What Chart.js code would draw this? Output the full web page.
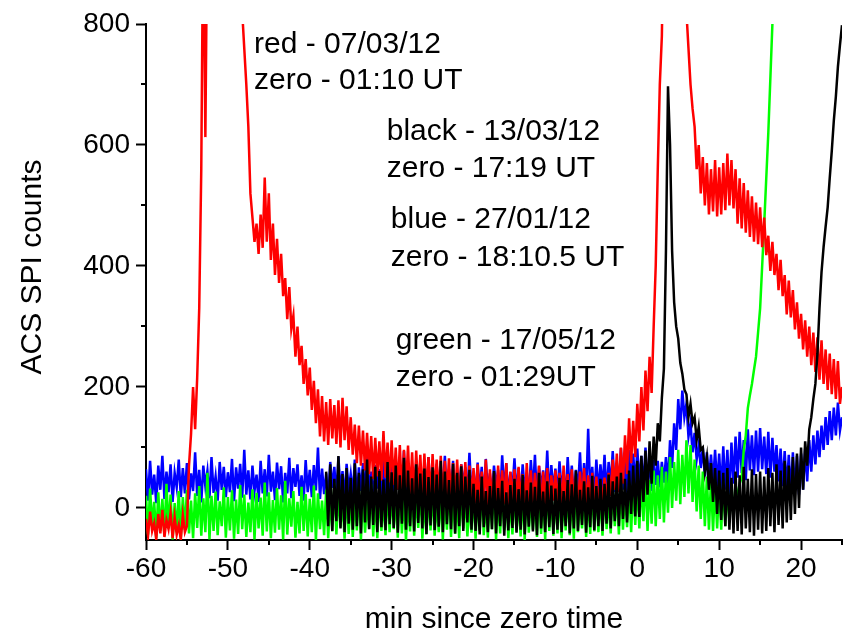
<!DOCTYPE html>
<html>
<head>
<meta charset="utf-8">
<script src="https://cdn.jsdelivr.net/npm/chart.js@4.4.1/dist/chart.umd.min.js"></script>
<style>
  html, body { margin: 0; padding: 0; background: #fff; }
  #wrap { width: 846px; height: 635px; }
</style>
</head>
<body>
<div id="wrap"><canvas id="chart_acs" width="846" height="635"></canvas></div>
<script>
// ACS SPI count rates, one sample every quarter minute
const STEP = 0.25;

const xTickValues = [-60, -50, -40, -30, -20, -10, 0, 10, 20];
const xMinorValues = [-55, -45, -35, -25, -15, -5, 5, 15, 25];
const yTickValues = [0, 200, 400, 600, 800];
const yMinorValues = [100, 300, 500, 700];

// blue - 27/01/12, from -60 min (rows of 5 min)
const blueStart = -60;
const blueCounts = [
    64, 12, 78, 22, 55, 8, 70, 30, 86, 15, 60, 26, 72, 10, 58, 34, 80, 18, 66, 24,
    74, 14, 57, 28, 92, 20, 63, 9, 70, 36, 61, 16, 84, 25, 52, 12, 76, 30, 68, 18,
    59, 26, 81, 11, 67, 32, 73, 17, 96, 22, 62, 14, 70, 28, 55, 10, 78, 24, 64, 19,
    88, 27, 60, 13, 75, 31, 69, 9, 58, 24, 83, 16, 66, 35, 72, 20, 54, 12, 79, 26,
    63, 18, 71, 29, 100, 15, 65, 23, 57, 11, 76, 33, 68, 19, 85, 26, 61, 14, 73, 30,
    56, 21, 80, 12, 67, 28, 74, 17, 90, 25, 60, 10, 71, 32, 64, 20, 82, 15, 58, 27,
    77, 13, 62, 30, 70, 18, 94, 24, 66, 11, 59, 29, 75, 16, 68, 34, 57, 22, 84, 14,
    69, 25, 73, 12, 61, 31, 86, 19, 64, 27, 78, 14, 55, 23, 72, 36, 67, 17, 91, 21,
    60, 16, 75, 28, 68, 11, 81, 26, 57, 20, 70, 33, 63, 13, 87, 24, 74, 18, 59, 30,
    82, 22, 66, 14, 72, 29, 58, 17, 79, 25, 88, 12, 69, 31, 62, 20, 95, 15, 71, 27,
    65, 19, 77, 30, 60, 13, 84, 24, 70, 16, 63, 28, 92, 18, 74, 22, 131, 26, 68, 14,
    80, 24, 72, 32, 88, 20, 76, 35, 94, 26, 70, 38, 99, 30, 84, 22, 96, 36, 90, 34,
    98, 40, 86, 30, 100, 36, 82, 28, 80, 38, 78, 34, 76, 42, 84, 40, 112, 66, 140, 96,
    180, 130, 194, 150, 172, 118, 140, 92, 124, 80, 104, 66, 100, 52, 92, 46, 88, 40, 96, 36,
    90, 26, 102, 30, 96, 22, 108, 40, 118, 50, 126, 58, 112, 46, 130, 62, 120, 54, 128, 60,
    132, 64, 118, 56, 126, 50, 116, 60, 104, 44, 98, 36, 94, 30, 88, 24, 92, 28, 86, 22,
    90, 30, 98, 44, 112, 60, 120, 72, 128, 84, 136, 96, 150, 104, 160, 112, 166, 120, 174, 128, 150
];

// green - 17/05/12, from -60 min
const greenStart = -60;
const greenCounts = [
    20, -44, 32, -30, 10, -50, 26, -38, 15, -46, 40, -34, 22, -52, 8, -40, 28, -48, 18, -36,
    30, -42, 12, -50, 24, -33, 36, -46, 16, -40, 58, -52, 20, -38, 27, -45, 11, -30, 34, -49,
    18, -37, 29, -51, 14, -43, 38, -35, 22, -48, 9, -40, 31, -52, 25, -34, 17, -46, 42, -39,
    26, -50, 13, -41, 33, -36, 21, -52, 45, -44, 16, -31, 28, -49, 10, -42, 35, -38, 23, -47,
    15, -40, 37, -53, 24, -35, 12, -45, 30, -50, 19, -39, 41, -44, 27, -32, 14, -51, 32, -43,
    22, -48, 16, -37, 34, -52, 25, -41, 11, -34, 39, -47, 20, -50, 29, -38, 13, -45, 36, -40,
    27, -35, 18, -49, 43, -42, 23, -53, 14, -39, 31, -46, 21, -33, 37, -51, 16, -44, 26, -37,
    33, -46, 12, -40, 28, -52, 19, -36, 40, -48, 24, -43, 15, -50, 35, -34, 22, -47, 10, -41,
    29, -51, 21, -38, 36, -45, 13, -49, 26, -35, 44, -52, 18, -42, 30, -37, 24, -50, 17, -44,
    32, -39, 14, -47, 27, -53, 38, -41, 20, -36, 11, -48, 33, -43, 23, -52, 41, -38, 19, -46,
    25, -42, 35, -50, 16, -37, 28, -45, 22, -51, 46, -40, 13, -34, 31, -48, 20, -43, 38, -39,
    30, -40, 24, -46, 36, -35, 20, -42, 33, -30, 28, -44, 40, -36, 26, -32, 38, -40, 44, -28,
    42, -34, 50, -22, 58, -38, 46, -26, 62, -30, 54, -18, 68, -24, 60, -8, 84, 0, 76, 12,
    96, 6, 88, 18, 112, 24, 104, 10, 80, -6, 70, -18, 60, -30, 52, -36, 46, -38, 40, -34,
    38, -36, 44, -30, 36, -24, 40, -12, 28, 24, 40, 50, 95, 120, 165, 186, 205, 228, 250, 290,
    330, 400, 470, 545, 620, 710, 800, 880, 960
];

// red - 07/03/12, from -60 min
const redStart = -60;
const redCounts = [
    -18, -46, -6, -38, -25, -52, -10, -42, -3, -48, -20, -35, -8, -50, -15, -44, -28, -53, -12, -40,
    -30, 70, 122, 200, 130, 215, 330, 560, 1000, 613, 1000, 1600, 2000, 2000, 2000, 2000, 2000, 2000, 2000, 2000,
    2000, 2000, 1800, 1500, 1300, 1100, 950, 820, 760, 700, 630, 520, 480, 440, 470, 420, 485, 430, 546, 440,
    520, 410, 470, 385, 445, 372, 420, 350, 380, 312, 365, 296, 318, 250, 300, 236, 268, 205, 246, 186,
    232, 162, 210, 140, 196, 118, 185, 110, 175, 104, 180, 115, 170, 106, 178, 100, 182, 112, 168, 96,
    150, 88, 138, 74, 136, 70, 128, 62, 124, 56, 119, 48, 116, 52, 110, 45, 127, 50, 108, 42,
    112, 38, 100, 30, 104, 26, 96, 34, 103, 18, 92, 12, 95, 24, 88, 16, 90, 20, 84, 14,
    89, 22, 80, 18, 86, 12, 78, 20, 82, 10, 74, 16, 80, 8, 72, 14, 76, 6, 70, 12,
    66, 8, 72, 2, 60, 12, 80, 4, 64, 10, 58, 0, 70, 14, 62, 6, 74, -2, 60, 10,
    64, 4, 68, 12, 56, -4, 74, 8, 62, 2, 58, 10, 70, -6, 60, 6, 66, 0, 54, 12,
    62, 4, 58, -2, 70, 10, 56, 0, 64, 8, 52, -6, 60, 6, 66, 2, 54, 10, 58, -4,
    52, 2, 46, 8, 50, 12, 58, 20, 80, 30, 90, 26, 100, 40, 120, 56, 148, 74, 144, 84,
    172, 110, 200, 128, 227, 160, 250, 190, 300, 400, 560, 700, 780, 1000, 1300, 1700, 2000, 2000, 2000, 2000,
    2000, 1800, 1400, 1050, 820, 760, 700, 660, 630, 560, 600, 520, 580, 500, 570, 485, 560, 490, 575, 482,
    563, 485, 570, 492, 586, 500, 575, 495, 560, 470, 545, 462, 537, 455, 525, 448, 515, 440, 505, 436,
    497, 431, 480, 418, 450, 392, 440, 385, 420, 360, 410, 350, 385, 320, 376, 315, 360, 295, 340, 280,
    321, 262, 310, 250, 300, 236, 290, 225, 282, 212, 277, 205, 262, 195, 255, 188, 246, 180, 243, 172, 200
];

// black - 13/03/12, from -38 min
const blackStart = -38;
const blackCounts = [
    60, -30, 72, -38, 48, -22, 86, -34, 56, -40, 66, -26,
    50, -36, 74, -30, 58, -42, 64, -24, 80, -35, 52, -28, 68, -40, 61, -32, 47, -37, 76, -27,
    59, -33, 70, -41, 54, -26, 83, -36, 62, -30, 49, -39, 72, -25, 57, -34, 65, -43, 51, -29,
    67, -37, 55, -31, 78, -40, 60, -27, 46, -35, 73, -42, 58, -30, 69, -38, 52, -24, 63, -36,
    40, -38, 30, -44, 52, -32, 28, -40, 36, -35, 61, -42, 33, -30, 45, -46, 26, -37, 38, -33,
    48, -41, 31, -36, 55, -44, 29, -31, 42, -39, 35, -45, 58, -34, 27, -40, 44, -32, 37, -43,
    32, -36, 50, -40, 28, -30, 46, -42, 39, -34, 62, -38, 30, -28, 44, -41, 34, -32, 53, -37,
    36, -30, 48, -38, 40, -26, 55, -34, 44, -22, 52, -30, 58, -18, 48, -24, 62, -10, 70, -14,
    78, -15, 86, 10, 95, 22, 110, 40, 118, 70, 140, 110, 182, 230, 425, 697, 600, 425, 340, 300,
    280, 240, 222, 196, 188, 150, 172, 140, 150, 112, 134, 96, 100, 60, 84, 30, 74, 10, 66, -10,
    62, -20, 58, -30, 66, -36, 50, -42, 60, -38, 54, -44, 68, -34, 48, -40, 64, -46, 56, -36,
    60, -42, 52, -38, 66, -30, 58, -40, 72, -28, 62, -34, 78, -24, 70, -20, 84, -10, 90, 0,
    100, 30, 110, 70, 130, 150, 180, 205, 255, 330, 390, 431, 465, 497, 545, 590, 640, 680, 729, 765, 798
];

const annotations = [
    { x: -46.8, y: 765, text: 'red - 07/03/12' },
    { x: -46.8, y: 707, text: 'zero - 01:10 UT' },
    { x: -30.6, y: 622, text: 'black - 13/03/12' },
    { x: -30.6, y: 561, text: 'zero - 17:19 UT' },
    { x: -30.1, y: 477, text: 'blue - 27/01/12' },
    { x: -30.1, y: 414, text: 'zero - 18:10.5 UT' },
    { x: -29.5, y: 277, text: 'green - 17/05/12' },
    { x: -29.5, y: 216, text: 'zero - 01:29UT' }
];

const FONT = '"Liberation Sans", Arial, sans-serif';

const toPoints = (start, counts) => counts.map((v, i) => ({ x: start + i * STEP, y: v }));

const makeSet = (label, start, counts, color) => ({
    label: label,
    data: toPoints(start, counts),
    borderColor: color,
    backgroundColor: color,
    borderWidth: 2.5,
    pointRadius: 0,
    tension: 0,
    fill: false
});

// minor ticks, annotations and the vertical axis title
const decorations = {
    id: 'decorations',
    afterDraw(chart) {
        const { ctx, chartArea, scales } = chart;
        ctx.save();
        ctx.strokeStyle = '#000';
        ctx.lineWidth = 2;
        ctx.beginPath();
        xMinorValues.forEach(v => {
            const px = Math.round(scales.x.getPixelForValue(v));
            ctx.moveTo(px, chartArea.bottom);
            ctx.lineTo(px, chartArea.bottom + 5);
        });
        yMinorValues.forEach(v => {
            const py = Math.round(scales.y.getPixelForValue(v));
            ctx.moveTo(chartArea.left, py);
            ctx.lineTo(chartArea.left - 5, py);
        });
        ctx.stroke();

        ctx.fillStyle = '#000';
        ctx.font = '30px ' + FONT;
        ctx.textAlign = 'left';
        ctx.textBaseline = 'middle';
        annotations.forEach(a => {
            ctx.fillText(a.text, scales.x.getPixelForValue(a.x), scales.y.getPixelForValue(a.y));
        });

        ctx.translate(33, 267);
        ctx.rotate(-Math.PI / 2);
        ctx.textAlign = 'center';
        ctx.fillText('ACS SPI counts', 0, 0);
        ctx.restore();
    }
};

const axisGrid = {
    display: true,
    drawOnChartArea: false,
    drawTicks: true,
    tickLength: 10,
    tickWidth: 2,
    tickColor: '#000'
};

new Chart(document.getElementById('chart_acs'), {
    type: 'line',
    data: {
        datasets: [
            makeSet('black', blackStart, blackCounts, '#000000'),
            makeSet('red', redStart, redCounts, '#ff0000'),
            makeSet('green', greenStart, greenCounts, '#00ff00'),
            makeSet('blue', blueStart, blueCounts, '#0000ff')
        ]
    },
    options: {
        responsive: false,
        animation: false,
        layout: { padding: { left: 0, right: 4, top: 24, bottom: 0 } },
        plugins: {
            legend: { display: false },
            tooltip: { enabled: false }
        },
        scales: {
            x: {
                type: 'linear',
                min: -60,
                max: 25,
                afterBuildTicks: (scale) => { scale.ticks = xTickValues.map(v => ({ value: v })); },
                afterFit: (scale) => { scale.height = 95; },
                grid: axisGrid,
                border: { display: true, color: '#000', width: 2 },
                ticks: { color: '#000', padding: 2, maxRotation: 0, font: { family: FONT, size: 28 } },
                title: {
                    display: true,
                    text: 'min since zero time',
                    color: '#000',
                    padding: { top: 0, bottom: 0 },
                    font: { family: FONT, size: 30, lineHeight: 1 }
                }
            },
            y: {
                type: 'linear',
                min: -53,
                max: 800,
                afterBuildTicks: (scale) => { scale.ticks = yTickValues.map(v => ({ value: v })); },
                afterFit: (scale) => { scale.width = 146; },
                grid: axisGrid,
                border: { display: true, color: '#000', width: 2 },
                ticks: { color: '#000', padding: 6, font: { family: FONT, size: 28 } }
            }
        }
    },
    plugins: [decorations]
});
</script>
</body>
</html>
